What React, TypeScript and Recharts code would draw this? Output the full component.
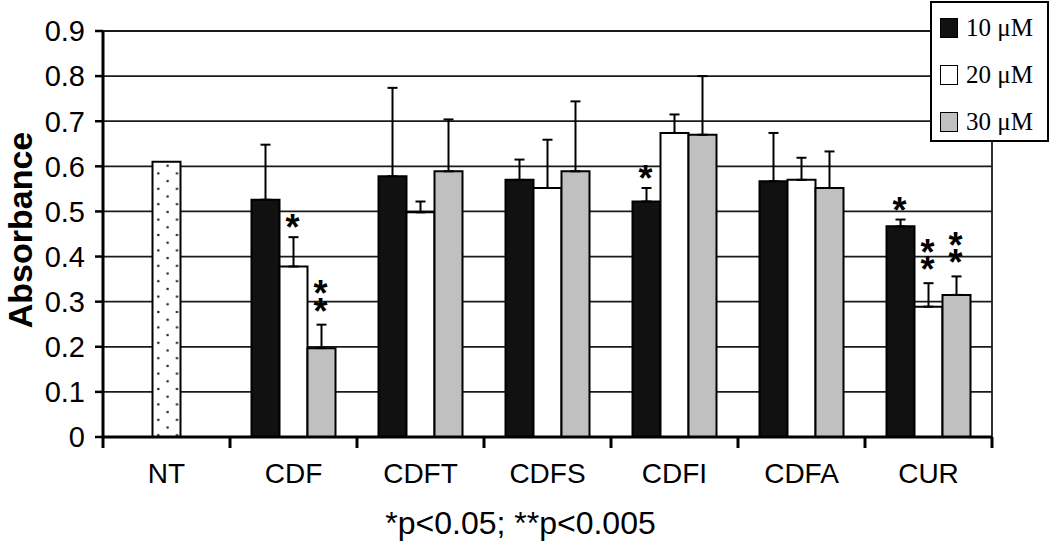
import { BarChart, Bar, XAxis, YAxis, CartesianGrid, ErrorBar, LabelList } from "recharts";

const categories = ["NT", "CDF", "CDFT", "CDFS", "CDFI", "CDFA", "CUR"];

// untreated control, only in the NT group
const control = [0.61, null, null, null, null, null, null];

const conc10 = [null, 0.526, 0.578, 0.57, 0.522, 0.567, 0.467];
const conc20 = [null, 0.378, 0.498, 0.552, 0.674, 0.57, 0.289];
const conc30 = [null, 0.197, 0.589, 0.589, 0.67, 0.552, 0.315];

const err10 = [null, 0.122, 0.196, 0.045, 0.03, 0.107, 0.015];
const err20 = [null, 0.065, 0.024, 0.107, 0.041, 0.049, 0.052];
const err30 = [null, 0.052, 0.115, 0.155, 0.13, 0.081, 0.041];

const sig10 = ["", "", "", "", "*", "", "*"];
const sig20 = ["", "*", "", "", "", "", "**"];
const sig30 = ["", "**", "", "", "", "", "**"];

const yTicks = [0, 0.1, 0.2, 0.3, 0.4, 0.5, 0.6, 0.7, 0.8, 0.9];

const legendItems = [
  { label: "10 \u03bcM", fill: "#111" },
  { label: "20 \u03bcM", fill: "#fff" },
  { label: "30 \u03bcM", fill: "#c0c0c0" },
];

const data = categories.map((cat, i) => ({
  cat,
  nt: control[i],
  c10: conc10[i],
  c20: conc20[i],
  c30: conc30[i],
  e10: err10[i] == null ? null : [0, err10[i]],
  e20: err20[i] == null ? null : [0, err20[i]],
  e30: err30[i] == null ? null : [0, err30[i]],
  s10: sig10[i],
  s20: sig20[i],
  s30: sig30[i],
}));

const W = 1050;
const H = 548;
const MARGIN = { top: 31, right: 58, left: 0, bottom: 0 };
const Y_AXIS_W = 103;
const X_AXIS_H = 111;

const SANS = '"Liberation Sans", Arial, Helvetica, sans-serif';
const SERIF = '"Liberation Serif", "Times New Roman", serif';

// label value is the whole row, so the star can sit above that bar's error bar
function starLabel(sigKey: string, valKey: string, errKey: string) {
  return (props: any) => {
    const { x, y, width, height, value } = props;
    const row = value || {};
    const sig = row[sigKey];
    if (!sig) return null;
    const v = row[valKey] ?? 0;
    const e = row[errKey] ? row[errKey][1] : 0;
    const h = Math.abs(height);
    const top = Math.min(y, y + height);
    const errTop = v > 0 ? top - (e * h) / v : top;
    const cx = x + width / 2 - 1;
    const gap = sig.length > 1 ? 22 : 18;
    return (
      <g>
        {String(sig)
          .split("")
          .map((s, k) => {
            const cy = errTop - gap - k * 17.5;
            return (
              <text key={k} x={cx} y={cy + 21} textAnchor="middle" fontFamily={SANS} fontWeight="bold" fontSize={36} fill="#000">
                {s}
              </text>
            );
          })}
      </g>
    );
  };
}

function CategoryTick(props: any) {
  const { x, y, payload } = props;
  return (
    <text x={x} y={y + 34} textAnchor="middle" fontFamily={SANS} fontSize={28} fill="#000">
      {payload.value}
    </text>
  );
}

// tick marks between the categories (Excel style), drawn over the chart
function BoundaryTicks() {
  const left = MARGIN.left + Y_AXIS_W;
  const right = W - MARGIN.right;
  const bottom = H - MARGIN.bottom - X_AXIS_H;
  const step = (right - left) / categories.length;
  return (
    <svg width={W} height={H} style={{ position: "absolute", left: 0, top: 0, pointerEvents: "none" }}>
      {categories.concat([""]).map((_, i) => (
        <line key={i} x1={left + i * step} x2={left + i * step} y1={bottom} y2={bottom + 11} stroke="#000" strokeWidth={3} />
      ))}
    </svg>
  );
}

function YTitle(props: any) {
  const vb = props.viewBox || { x: 0, y: 31, width: 103, height: 406 };
  const cx = 20;
  const cy = vb.y + vb.height / 2 - 4;
  return (
    <text x={cx} y={cy} transform={`rotate(-90 ${cx} ${cy})`} textAnchor="middle" dominantBaseline="central" fontFamily={SANS} fontWeight="bold" fontSize={34} fill="#000">
      Absorbance
    </text>
  );
}

function LegendBox() {
  return (
    <div style={{ position: "absolute", left: 930, top: 1, width: 119, height: 141, boxSizing: "border-box", border: "2px solid #000", background: "#fff", paddingTop: 1 }}>
      {legendItems.map((it) => (
        <div key={it.label} style={{ display: "flex", alignItems: "center", height: 47 }}>
          <span style={{ display: "inline-block", width: 18, height: 20, boxSizing: "border-box", border: "1.5px solid #000", background: it.fill, marginLeft: 8, marginRight: 8 }} />
          <span style={{ fontFamily: SERIF, fontSize: 25, color: "#000", lineHeight: "25px", whiteSpace: "nowrap" }}>{it.label}</span>
        </div>
      ))}
    </div>
  );
}

export default function App() {
  return (
    <div style={{ position: "absolute", left: 0, top: 0, width: W, height: H, background: "#fff" }}>
      <BarChart width={W} height={H} data={data} margin={MARGIN} barGap={0} barCategoryGap={21.5}>
        <defs>
          <pattern id="dots" x={153} y={158} width={18.7} height={15.4} patternUnits="userSpaceOnUse">
            <rect width={18.7} height={15.4} fill="#fff" />
            <circle cx={5.3} cy={0} r={1.3} fill="#222" />
            <circle cx={5.3} cy={15.4} r={1.3} fill="#222" />
            <circle cx={14.6} cy={7.7} r={1.3} fill="#222" />
          </pattern>
        </defs>
        <CartesianGrid
          stroke="#1a1a1a"
          strokeWidth={1.8}
          vertical
          verticalCoordinatesGenerator={({ offset }: any) => [offset.left + offset.width]}
        />
        <XAxis
          dataKey="cat"
          height={X_AXIS_H}
          axisLine={{ stroke: "#000", strokeWidth: 3 }}
          tickLine={false}
          tickSize={10}
          tick={<CategoryTick />}
          interval={0}
          label={{ value: "*p<0.05; **p<0.005", position: "insideBottom", offset: 14, dx: -27, style: { fontFamily: SANS, fontSize: 32, fill: "#000" } }}
        />
        <YAxis
          width={Y_AXIS_W}
          domain={[0, 0.9]}
          ticks={yTicks}
          interval={0}
          axisLine={{ stroke: "#000", strokeWidth: 3 }}
          tickLine={{ stroke: "#000", strokeWidth: 2.5 }}
          tickSize={8}
          tickMargin={10}
          tick={{ fontFamily: SANS, fontSize: 29, fill: "#000" }}
          label={<YTitle />}
        />
        <Bar dataKey="c10" stackId="a" fill="#111" stroke="#000" strokeWidth={2} isAnimationActive={false}>
          <ErrorBar dataKey="e10" width={5} stroke="#000" strokeWidth={2} />
          <LabelList dataKey={(d: any) => d} content={starLabel("s10", "c10", "e10")} />
        </Bar>
        <Bar dataKey="c20" stackId="b" fill="#fff" stroke="#000" strokeWidth={2} isAnimationActive={false}>
          <ErrorBar dataKey="e20" width={5} stroke="#000" strokeWidth={2} />
          <LabelList dataKey={(d: any) => d} content={starLabel("s20", "c20", "e20")} />
        </Bar>
        <Bar dataKey="nt" stackId="b" fill="url(#dots) #fff" stroke="#000" strokeWidth={2} isAnimationActive={false} />
        <Bar dataKey="c30" stackId="c" fill="#c0c0c0" stroke="#000" strokeWidth={2} isAnimationActive={false}>
          <ErrorBar dataKey="e30" width={5} stroke="#000" strokeWidth={2} />
          <LabelList dataKey={(d: any) => d} content={starLabel("s30", "c30", "e30")} />
        </Bar>
      </BarChart>
      <BoundaryTicks />
      <LegendBox />
    </div>
  );
}
